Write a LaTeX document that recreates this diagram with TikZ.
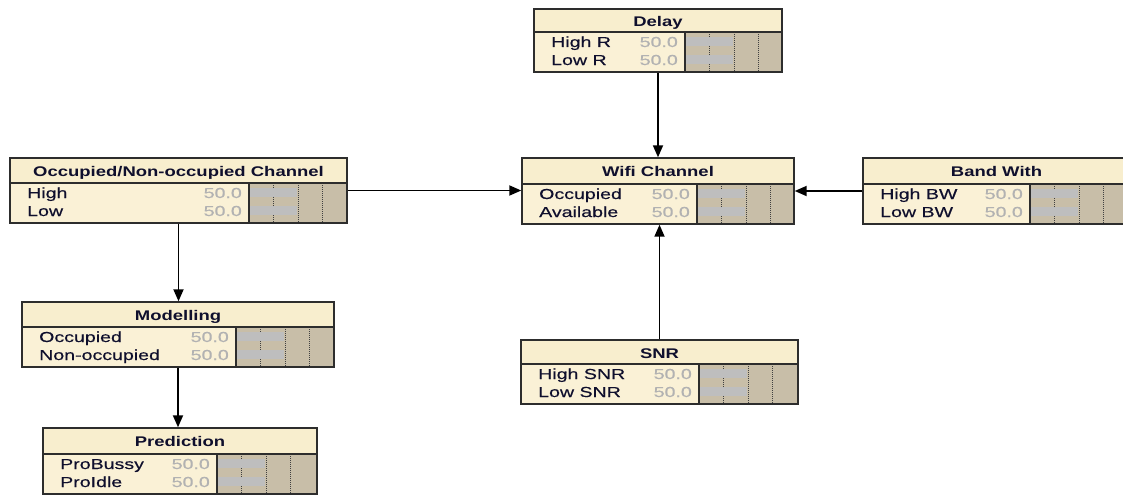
\documentclass[tikz,border=0pt]{standalone}
\usepackage{fontspec}
\setmainfont{Liberation Sans}[FakeStretch=1.35,FakeBold=0.4]
\newfontfamily\titlefont{Liberation Sans}[FakeStretch=1.32]
\usetikzlibrary{arrows.meta}
\definecolor{titlebg}{RGB}{248,238,206}
\definecolor{bodybg}{RGB}{250,241,214}
\definecolor{barbg}{RGB}{200,190,168}
\definecolor{barfill}{RGB}{190,190,190}
\definecolor{framecol}{RGB}{45,45,45}
\definecolor{numcol}{RGB}{178,178,178}
\definecolor{statecol}{RGB}{15,15,45}
\tikzset{
  bnframe/.style={draw=framecol, line width=1.4pt, inner sep=0pt, rectangle},
  gridline/.style={draw=black!75, line width=0.9pt, dash pattern=on 1pt off 1pt},
  titletext/.style={font={\titlefont\bfseries\fontsize{14}{16}\selectfont}, anchor=base, inner sep=0pt, text=statecol},
  statetext/.style={font={\fontsize{14.5}{16}\selectfont}, anchor=base west, inner sep=0pt, text=statecol},
  numtext/.style={font={\fontsize{14.5}{16}\selectfont}, anchor=base east, inner sep=0pt, text=numcol},
  arr/.style={draw=black, line width=1.8pt, -{Triangle[length=12pt,width=10pt]}}
}
\newcommand\bnbox[9]{%
 \pgfmathsetmacro\bnD{#5-40}%
 \pgfmathsetmacro\bnW{#4-#2}%
 \pgfmathsetmacro\bnH{#5-#3}%
 \fill[titlebg] (#2,#3) rectangle (#4,\bnD);
 \fill[bodybg] (#2,\bnD) rectangle (#6,#5);
 \fill[barbg] (#6,\bnD) rectangle (#4,#5);
 \foreach \k in {24.5,49,73.5} \draw[gridline] ({#6+\k},\bnD) -- ({#6+\k},#5);
 \fill[barfill] (#6,{\bnD+5}) rectangle ({#6+48},{\bnD+14});
 \fill[barfill] (#6,{\bnD+23}) rectangle ({#6+48},{\bnD+32});
 \draw[framecol, line width=1.4pt] (#2,\bnD) -- (#4,\bnD) (#6,\bnD) -- (#6,#5);
 \node[bnframe, minimum width=\bnW pt, minimum height=\bnH pt] (#1) at ({(#2+#4)/2},{(#3+#5)/2}) {};
 \node[titletext] (#1-title) at ({(#2+#4)/2},{#3+18}) {#7};
 \node[statetext] (#1-s1) at ({#2+17},{\bnD+15}) {#8};
 \node[statetext] (#1-s2) at ({#2+17},{\bnD+33}) {#9};
 \node[numtext] (#1-n1) at ({#6-7},{\bnD+15}) {50.0};
 \node[numtext] (#1-n2) at ({#6-7},{\bnD+33}) {50.0};
}
\begin{document}
\begin{tikzpicture}[x=1pt,y=-1pt]
\clip (0,0) rectangle (1123,495);
\fill[white] (0,0) rectangle (1123,495);
\bnbox{delay}{534}{9}{782}{72}{685}{Delay}{High R}{Low R}
\bnbox{occ}{10}{158}{347}{223}{249}{Occupied/Non-occupied Channel}{High}{Low}
\bnbox{wifi}{522}{158}{794}{224}{697}{Wifi Channel}{Occupied}{Available}
\bnbox{band}{863}{158}{1130}{224}{1030}{Band With}{High BW}{Low BW}
\bnbox{snr}{521}{340}{798}{404}{699}{SNR}{High SNR}{Low SNR}
\bnbox{mod}{22}{302}{334}{367}{236}{Modelling}{Occupied}{Non-occupied}
\bnbox{pred}{43}{428}{317}{494}{217}{Prediction}{ProBussy}{ProIdle}
\draw[arr] (delay.south) -- (delay.south |- wifi.north);
\draw[arr] (snr.north) -- (snr.north |- wifi.south);
\draw[arr] (occ.east) -- (occ.east -| wifi.west);
\draw[arr] (band.west) -- (band.west -| wifi.east);
\draw[arr] (occ.south) -- (occ.south |- mod.north);
\draw[arr] (mod.south) -- (mod.south |- pred.north);
\end{tikzpicture}
\end{document}
